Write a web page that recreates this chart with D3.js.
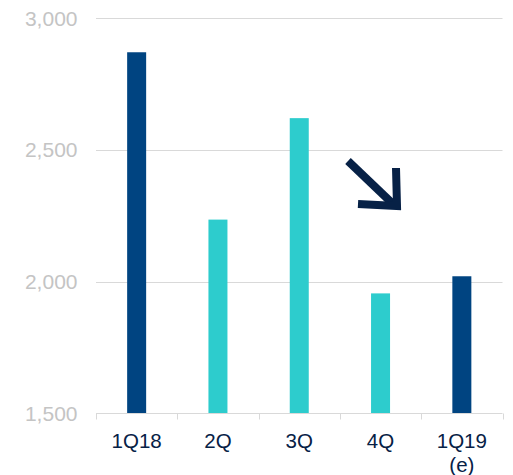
<!DOCTYPE html>
<html><head><meta charset="utf-8">
<script src="https://cdn.jsdelivr.net/npm/d3@7"></script>
<style>body{margin:0;background:#fff}svg{display:block}</style>
</head><body>
<svg id="c" width="513" height="475"></svg>
<script>
const categories = ["1Q18", "2Q", "3Q", "4Q", "1Q19\n(e)"];
const values = [2870, 2235, 2620, 1955, 2020];
const barColors = ["#004481", "#2dcccd", "#2dcccd", "#2dcccd", "#004481"];
const yTicks = [1500, 2000, 2500, 3000];

const svg = d3.select("#c");
const pLeft = 96, pRight = 502.5, pTop = 18, pBottom = 413.3;
const x = d3.scaleBand().domain(categories).range([pLeft, pRight]).paddingInner(0).paddingOuter(0);
const y = d3.scaleLinear().domain([1500, 3000]).range([pBottom, pTop]);
const bw = 19;

// gridlines
svg.append("g").selectAll("line").data(yTicks.slice(1)).join("line")
  .attr("x1", pLeft).attr("x2", pRight)
  .attr("y1", d => Math.round(y(d)) + 0.5).attr("y2", d => Math.round(y(d)) + 0.5)
  .attr("stroke", "#d9d9d9").attr("stroke-width", 1);

// y labels
svg.append("g").selectAll("text").data(yTicks).join("text")
  .attr("x", 77.5).attr("y", d => y(d)).attr("dy", "0.36em")
  .attr("text-anchor", "end").attr("font-family", "Liberation Sans, Arial, sans-serif")
  .attr("font-size", 21).attr("fill", "#c4c4c4")
  .text(d => d3.format(",")(d));

// bars
svg.append("g").selectAll("rect").data(values).join("rect")
  .attr("x", (d, i) => x(categories[i]) + x.bandwidth() / 2 - bw / 2)
  .attr("width", bw)
  .attr("y", d => y(d))
  .attr("height", d => y(1500) - y(d))
  .attr("fill", (d, i) => barColors[i]);

// x axis
const axis = svg.append("g").attr("transform", `translate(0,${Math.round(pBottom) + 0.5})`);
axis.append("line").attr("x1", pLeft).attr("x2", pRight).attr("stroke", "#d9d9d9");
const bounds = categories.map(c => x(c)).concat([pRight]);
axis.selectAll("line.t").data(bounds).join("line").attr("class", "t")
  .attr("x1", d => Math.round(d) + 0.5).attr("x2", d => Math.round(d) + 0.5)
  .attr("y1", 0).attr("y2", 6).attr("stroke", "#d9d9d9");
const lbl = axis.selectAll("text").data(categories).join("text")
  .attr("text-anchor", "middle").attr("font-family", "Liberation Sans, Arial, sans-serif")
  .attr("font-size", 20.5).attr("fill", "#072146");
lbl.each(function(c) {
  const lines = c.split("\n");
  const t = d3.select(this);
  lines.forEach((l, i) => {
    t.append("tspan").attr("x", x(c) + x.bandwidth() / 2).attr("y", 34 + i * 24).text(l);
  });
});

// arrow
const ag = svg.append("g").attr("fill", "none").attr("stroke", "#072146").attr("stroke-width", 8);
ag.append("line").attr("x1", 348).attr("y1", 161).attr("x2", 393).attr("y2", 204);
ag.append("path").attr("d", "M358,204 L397,206 L396,168").attr("stroke-linejoin", "miter");
</script>
</body></html>
